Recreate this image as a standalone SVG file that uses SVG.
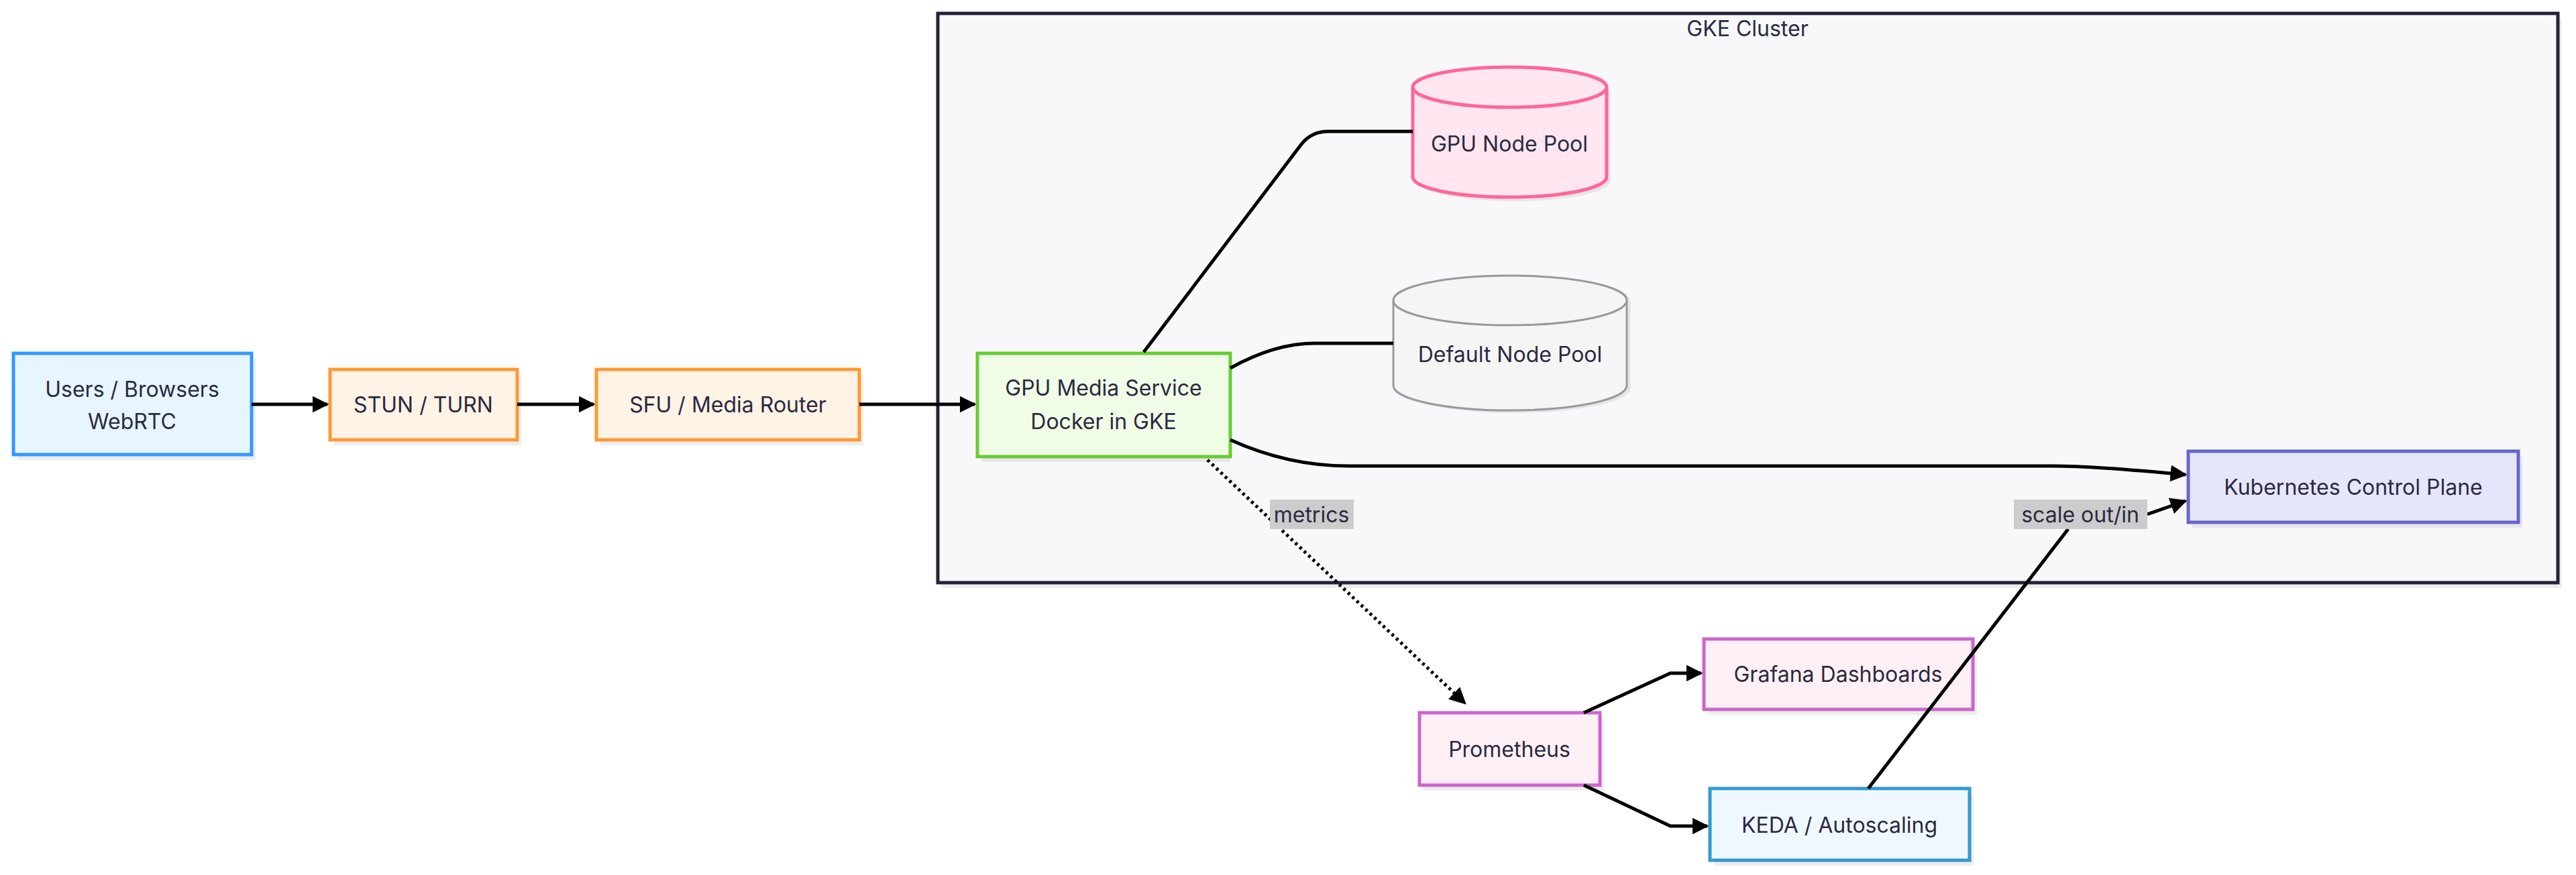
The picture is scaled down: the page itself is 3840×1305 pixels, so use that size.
<svg xmlns="http://www.w3.org/2000/svg" width="3840" height="1305" viewBox="0 0 3840 1305">
<defs>
<marker id="ah" viewBox="0 0 10 10" refX="9" refY="5" markerWidth="5" markerHeight="5" markerUnits="strokeWidth" orient="auto"><path d="M0,0 L10,5 L0,10 z" fill="#000"/></marker>
<style>
text{font-family:"Inter","Liberation Sans",sans-serif;font-size:32px;fill:#2a2a40;text-anchor:middle;dominant-baseline:central}
.sh{fill:#000;opacity:0.07}
.e{fill:none;stroke:#000;stroke-width:5}
.lb{fill:#cccccc}
</style>
</defs>
<rect width="3840" height="1305" fill="#fff"/>
<g id="cluster">
<rect class="sh" x="1404" y="28" width="2415" height="849"/>
<rect x="1398" y="20" width="2415" height="849" fill="#f8f8fa" stroke="#22223a" stroke-width="5"/>
<text x="2605" y="42">GKE Cluster</text>
</g>
<g id="users"><rect class="sh" x="26" y="535" width="355" height="151"/><rect x="20" y="527" width="355" height="151" fill="#e6f5ff" stroke="#3399ff" stroke-width="5"/><text x="197" y="580">Users / Browsers</text><text x="197" y="628">WebRTC</text></g>
<g id="stun"><rect class="sh" x="498" y="559" width="279" height="105"/><rect x="492" y="551" width="279" height="105" fill="#fff3e6" stroke="#ff9933" stroke-width="5"/><text x="631" y="603">STUN / TURN</text></g>
<g id="sfu"><rect class="sh" x="895" y="559" width="392" height="105"/><rect x="889" y="551" width="392" height="105" fill="#fff3e6" stroke="#ff9933" stroke-width="5"/><text x="1085" y="603">SFU / Media Router</text></g>
<g id="gpums"><rect class="sh" x="1463" y="535" width="371" height="154"/><rect x="1457" y="527" width="377" height="154" fill="#f0fce6" stroke="#66cc33" stroke-width="5"/><text x="1645" y="578">GPU Media Service</text><text x="1645" y="628">Docker in GKE</text></g>
<g id="gpupool">
<path class="sh" d="M2112,138 a144.5,30 0 0 1 289,0 v132 a144.5,30 0 0 1 -289,0 z"/>
<path d="M2106,130 a144.5,30 0 0 1 289,0 v134 a144.5,30 0 0 1 -289,0 z" fill="#ffe6f0" stroke="#ff6699" stroke-width="5"/>
<path d="M2106,130 a144.5,30 0 0 0 289,0" fill="none" stroke="#ff6699" stroke-width="5"/>
<text x="2250" y="214">GPU Node Pool</text></g>
<g id="defpool">
<path class="sh" d="M2083,449 a174,37 0 0 1 348,0 v130 a174,37 0 0 1 -348,0 z"/>
<path d="M2077,448 a174,37 0 0 1 348,0 v127 a174,37 0 0 1 -348,0 z" fill="#f5f5f5" stroke="#999" stroke-width="3"/>
<path d="M2077,448 a174,37 0 0 0 348,0" fill="none" stroke="#999" stroke-width="3"/>
<text x="2251" y="528">Default Node Pool</text></g>
<g id="k8s"><rect class="sh" x="3268" y="681" width="492" height="106"/><rect x="3262" y="673" width="492" height="106" fill="#e6e6fa" stroke="#6666cc" stroke-width="5"/><text x="3508" y="726">Kubernetes Control Plane</text></g>
<g id="grafana"><rect class="sh" x="2546" y="961" width="401" height="105"/><rect x="2540" y="953" width="401" height="105" fill="#fff0f5" stroke="#cc66cc" stroke-width="5"/><text x="2740" y="1005">Grafana Dashboards</text></g>
<g id="prom"><rect class="sh" x="2122" y="1071" width="269" height="108"/><rect x="2116" y="1063" width="269" height="108" fill="#fff0f5" stroke="#cc66cc" stroke-width="5"/><text x="2250" y="1117">Prometheus</text></g>
<g id="keda"><rect class="sh" x="2555" y="1184" width="387" height="107"/><rect x="2549" y="1176" width="387" height="107" fill="#f0f8ff" stroke="#3399cc" stroke-width="5"/><text x="2742" y="1230">KEDA / Autoscaling</text></g>
<g id="edges">
<path class="e" d="M375,603 H488" marker-end="url(#ah)"/>
<path class="e" d="M771,603 H885" marker-end="url(#ah)"/>
<path class="e" d="M1281,603 H1453" marker-end="url(#ah)"/>
<path class="e" d="M1705,525 L1940,215 Q1955,196 1980,196 H2106"/>
<path class="e" d="M1834,549 Q1900,512 1960,512 H2077"/>
<path class="e" d="M1834,656 Q1920,695 2010,695 H3060 Q3120,695 3258,708" marker-end="url(#ah)"/>
<path class="e" d="M1800,686 L2184,1049" stroke-dasharray="4,5" marker-end="url(#ah)"/>
<path class="e" d="M2361,1063 L2490,1004 H2536" marker-end="url(#ah)"/>
<path class="e" d="M2361,1171 L2490,1232 H2545" marker-end="url(#ah)"/>
<path class="e" d="M2785,1176 L3083,789"/>
<path class="e" d="M3201,767 L3258,747" marker-end="url(#ah)"/>
<rect class="lb" x="1893" y="745" width="125" height="44"/><text x="1955" y="767">metrics</text>
<rect class="lb" x="3002" y="745" width="199" height="44"/><text x="3101" y="767">scale out/in</text>
</g>
</svg>
